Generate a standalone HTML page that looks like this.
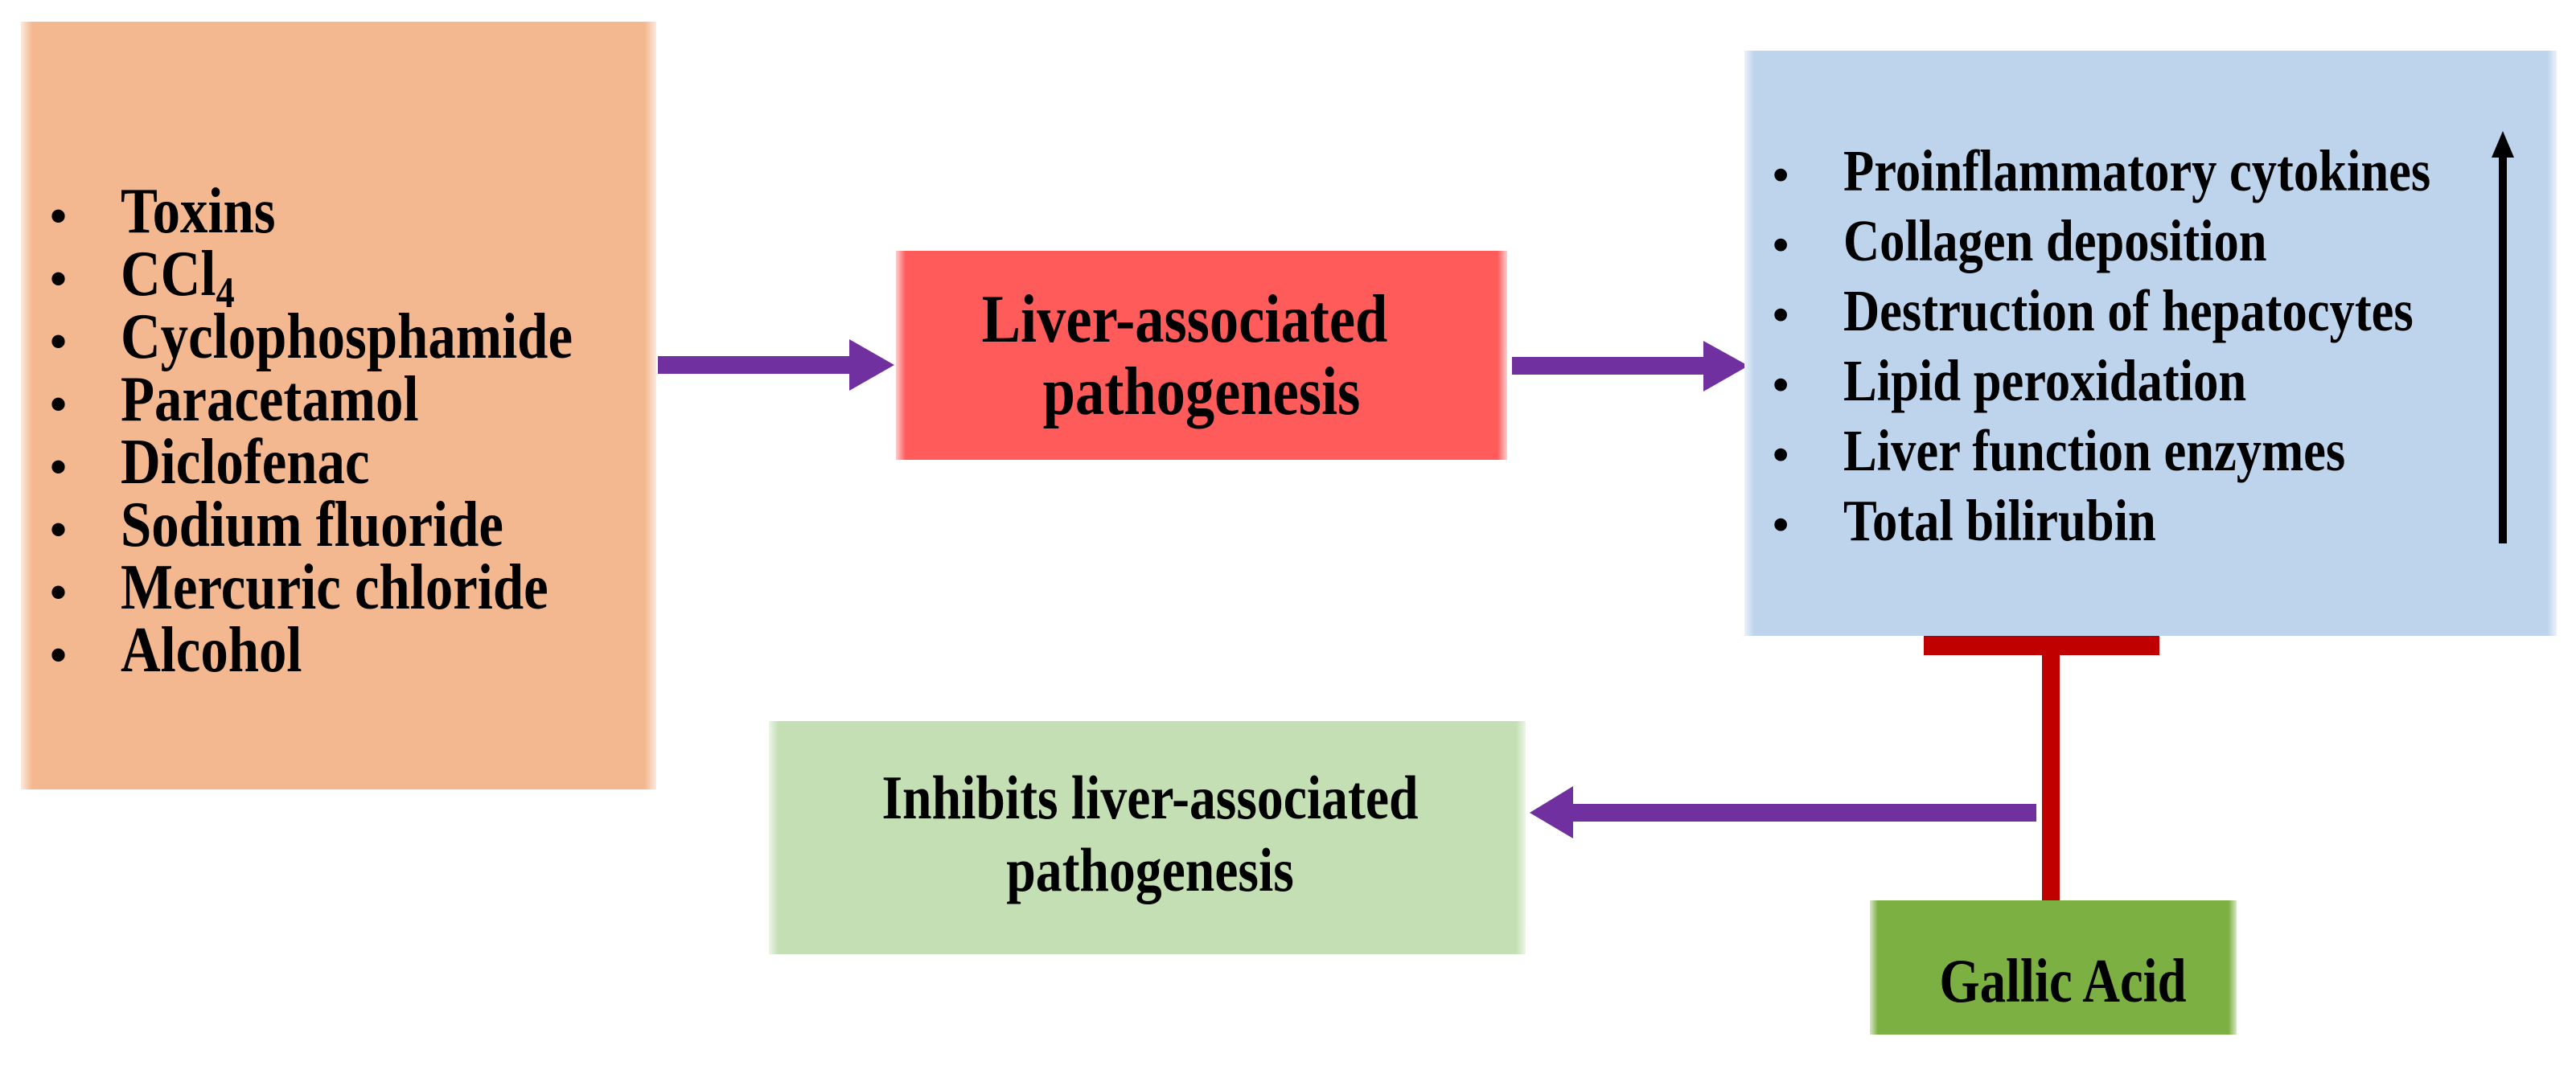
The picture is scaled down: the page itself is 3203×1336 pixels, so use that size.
<!DOCTYPE html>
<html><head><meta charset="utf-8"><style>
html,body{margin:0;padding:0;background:#fff;}
svg{display:block;}
text{font-family:"Liberation Serif",serif;font-weight:bold;fill:#000;}
</style></head><body>
<svg width="3203" height="1336" viewBox="0 0 3203 1336" xmlns="http://www.w3.org/2000/svg">
<defs>
<linearGradient id="edgeL" x1="0" x2="1"><stop offset="0" stop-color="#fff" stop-opacity="0.7"/><stop offset="1" stop-color="#fff" stop-opacity="0"/></linearGradient>
<linearGradient id="edgeR" x1="1" x2="0"><stop offset="0" stop-color="#fff" stop-opacity="0.7"/><stop offset="1" stop-color="#fff" stop-opacity="0"/></linearGradient>
</defs>

<!-- Orange box -->
<rect x="26" y="27" width="790" height="955" fill="#F4B890"/>
<rect x="26" y="27" width="14" height="955" fill="url(#edgeL)"/>
<rect x="802" y="27" width="14" height="955" fill="url(#edgeR)"/>
<g font-size="80">
<text x="62" y="289" font-size="60">•</text>
<text x="62" y="367" font-size="60">•</text>
<text x="62" y="445" font-size="60">•</text>
<text x="62" y="523" font-size="60">•</text>
<text x="62" y="601" font-size="60">•</text>
<text x="62" y="679" font-size="60">•</text>
<text x="62" y="757" font-size="60">•</text>
<text x="62" y="835" font-size="60">•</text>
<g transform="translate(150,0) scale(0.86,1)">
<text x="0" y="289">Toxins</text>
<text x="0" y="367">CCl<tspan font-size="54" dy="15">4</tspan></text>
<text x="0" y="445">Cyclophosphamide</text>
<text x="0" y="523">Paracetamol</text>
<text x="0" y="601">Diclofenac</text>
<text x="0" y="679">Sodium fluoride</text>
<text x="0" y="757">Mercuric chloride</text>
<text x="0" y="835">Alcohol</text>
</g>
</g>

<!-- Arrow 1 -->
<rect x="818" y="443" width="240" height="22" fill="#7030A0"/>
<polygon points="1056,422 1112,454 1056,486" fill="#7030A0"/>

<!-- Red box -->
<rect x="1114" y="312" width="760" height="260" fill="#FF5B5B"/>
<rect x="1114" y="312" width="12" height="260" fill="url(#edgeL)"/>
<rect x="1862" y="312" width="12" height="260" fill="url(#edgeR)"/>
<g font-size="85" text-anchor="middle">
<g transform="translate(1473,0) scale(0.853,1)"><text x="0" y="425">Liver-associated</text></g>
<g transform="translate(1494,0) scale(0.853,1)"><text x="0" y="515">pathogenesis</text></g>
</g>

<!-- Arrow 2 -->
<rect x="1880" y="444" width="241" height="22" fill="#7030A0"/>
<polygon points="2118,424 2174,455 2118,487" fill="#7030A0"/>

<!-- Blue box -->
<rect x="2169" y="63" width="1010" height="728" fill="#BDD4EC"/>
<rect x="2169" y="63" width="12" height="728" fill="url(#edgeL)"/>
<rect x="3167" y="63" width="12" height="728" fill="url(#edgeR)"/>
<g font-size="73">
<text x="2204" y="237" font-size="58">•</text>
<text x="2204" y="324" font-size="58">•</text>
<text x="2204" y="411" font-size="58">•</text>
<text x="2204" y="498" font-size="58">•</text>
<text x="2204" y="585" font-size="58">•</text>
<text x="2204" y="672" font-size="58">•</text>
<g transform="translate(2292,0) scale(0.857,1)">
<text x="0" y="237">Proinflammatory cytokines</text>
<text x="0" y="324">Collagen deposition</text>
<text x="0" y="411">Destruction of hepatocytes</text>
<text x="0" y="498">Lipid peroxidation</text>
<text x="0" y="585">Liver function enzymes</text>
<text x="0" y="672">Total bilirubin</text>
</g>
</g>
<!-- black up arrow -->
<rect x="3107" y="190" width="10" height="486" fill="#000"/>
<polygon points="3098,196 3112,163 3126,196" fill="#000"/>

<!-- Red T inhibitor -->
<rect x="2392" y="791" width="293" height="24" fill="#C00000"/>
<rect x="2539" y="815" width="22" height="305" fill="#C00000"/>

<!-- Left arrow -->
<rect x="1953" y="1000" width="579" height="22" fill="#7030A0"/>
<polygon points="1956,978 1902,1011 1956,1043" fill="#7030A0"/>

<!-- Green box -->
<rect x="956" y="897" width="941" height="290" fill="#C4DFB4"/>
<rect x="956" y="897" width="12" height="290" fill="url(#edgeL)"/>
<rect x="1885" y="897" width="12" height="290" fill="url(#edgeR)"/>
<g transform="translate(1430,0) scale(0.853,1)" font-size="77" text-anchor="middle">
<text x="0" y="1018">Inhibits liver-associated</text>
<text x="0" y="1108">pathogenesis</text>
</g>

<!-- Gallic acid box -->
<rect x="2325" y="1120" width="456" height="167" fill="#7DB043"/>
<rect x="2325" y="1120" width="10" height="167" fill="url(#edgeL)"/>
<rect x="2771" y="1120" width="10" height="167" fill="url(#edgeR)"/>
<g transform="translate(2565,0) scale(0.84,1)" font-size="77" text-anchor="middle">
<text x="0" y="1246">Gallic Acid</text>
</g>
</svg>
</body></html>
